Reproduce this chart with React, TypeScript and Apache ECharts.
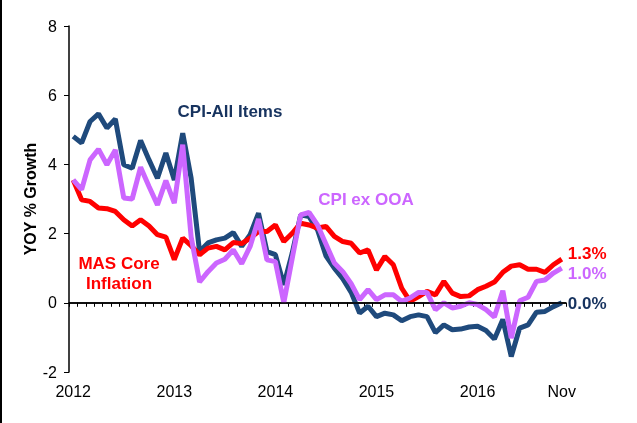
import React, { useEffect, useRef } from "react";
import * as echarts from "echarts";

const years = [2012, 2013, 2014, 2015, 2016];
const monthNames = ["Jan", "Feb", "Mar", "Apr", "May", "Jun", "Jul", "Aug", "Sep", "Oct", "Nov", "Dec"];
const categories: string[] = [];
years.forEach((y) => monthNames.forEach((m, i) => { if (!(y === 2016 && i > 10)) categories.push(m + " " + y); }));

const tickLabels: Record<number, string> = { 0: "2012", 12: "2013", 24: "2014", 36: "2015", 48: "2016", 58: "Nov" };

const cpiAll = [
  4.81, 4.62, 5.24, 5.46, 5.05, 5.31, 3.99, 3.89, 4.69, 4.13, 3.6, 4.33,
  3.55, 4.9, 3.6, 1.48, 1.73, 1.82, 1.87, 2.03, 1.63, 1.97, 2.59, 1.48,
  1.39, 0.52, 1.44, 2.54, 2.49, 2.11, 1.36, 1.0, 0.7, 0.3, -0.3, -0.1,
  -0.4, -0.3, -0.35, -0.52, -0.4, -0.35, -0.4, -0.86, -0.64, -0.78, -0.76, -0.7,
  -0.68, -0.8, -1.05, -0.48, -1.55, -0.73, -0.64, -0.27, -0.25, -0.11, 0.0,
];
const masCore = [
  3.55, 2.98, 2.93, 2.74, 2.72, 2.64, 2.4, 2.22, 2.4, 2.22, 1.97, 1.9,
  1.25, 1.87, 1.65, 1.39, 1.58, 1.63, 1.53, 1.74, 1.71, 1.87, 2.06, 2.06,
  2.25, 1.77, 2.01, 2.3, 2.25, 2.16, 2.21, 1.92, 1.77, 1.72, 1.44, 1.53,
  0.95, 1.34, 1.1, 0.42, 0.04, 0.18, 0.33, 0.23, 0.62, 0.28, 0.18, 0.2,
  0.38, 0.48, 0.6, 0.88, 1.06, 1.1, 0.97, 0.97, 0.88, 1.1, 1.26,
];
const cpiExOOA = [
  3.55, 3.27, 4.13, 4.44, 3.99, 4.42, 3.03, 3.0, 3.92, 3.36, 2.83, 3.53,
  2.88, 4.57, 1.9, 0.6, 0.9, 1.15, 1.26, 1.53, 1.13, 1.63, 2.42, 1.24,
  1.19, 0.0, 1.29, 2.54, 2.61, 2.25, 1.7, 1.15, 0.9, 0.55, 0.09, 0.38,
  0.09, 0.23, 0.23, 0.04, 0.14, 0.3, 0.3, -0.2, 0.0, -0.15, -0.1, 0.0,
  -0.05, -0.2, -0.41, 0.35, -1.02, 0.06, 0.16, 0.62, 0.66, 0.86, 1.0,
];

const FONT = "'Liberation Sans', Arial, sans-serif";
const BLUE = "#1F4A7C";
const BLUE_TEXT = "#17335F";
const RED = "#FF0000";
const PURPLE = "#CC66FF";

export default function App() {
  const ref = useRef<HTMLDivElement>(null);
  useEffect(() => {
    document.body.style.margin = "0";
    const chart = echarts.init(ref.current!, undefined, { renderer: "svg" });
    const endLabel = (color: string, dy: number) => ({
      show: true,
      formatter: (p: any) => Number(p.value).toFixed(1) + "%",
      color,
      fontFamily: FONT,
      fontWeight: "bold",
      fontSize: 17,
      distance: 6,
      offset: [0, dy],
    });
    chart.setOption({
      animation: false,
      textStyle: { fontFamily: FONT },
      grid: { left: 69, right: 71, top: 26, bottom: 51 },
      xAxis: {
        type: "category",
        data: categories,
        boundaryGap: true,
        axisLine: { lineStyle: { color: "#000", width: 1.5 } },
        axisTick: { show: true, interval: 0, length: 4, lineStyle: { color: "#000" } },
        axisLabel: {
          interval: (i: number) => tickLabels[i] !== undefined,
          formatter: (_v: string, i: number) => tickLabels[i] ?? "",
          color: "#000",
          fontSize: 16,
          fontFamily: FONT,
          margin: 11,
        },
        splitLine: { show: false },
      },
      yAxis: {
        type: "value",
        min: -2,
        max: 8,
        interval: 2,
        name: "YOY % Growth",
        nameLocation: "middle",
        nameGap: 31,
        nameMoveOverlap: false,
        nameTextStyle: { color: "#000", fontSize: 16, fontWeight: "bold", fontFamily: FONT },
        axisLine: { show: true, lineStyle: { color: "#000", width: 1.5 } },
        axisTick: { show: true, length: 5, lineStyle: { color: "#000" } },
        axisLabel: { color: "#000", fontSize: 16, fontFamily: FONT, margin: 12 },
        splitLine: { show: false },
      },
      series: [
        {
          name: "CPI-All Items",
          type: "line",
          data: cpiAll,
          symbol: "none",
          lineStyle: { color: BLUE, width: 5 },
          itemStyle: { color: BLUE },
          endLabel: endLabel(BLUE_TEXT, 1),
          markLine: {
            silent: true,
            symbol: "none",
            label: { show: false },
            lineStyle: { color: "#000", width: 1.5, type: "solid" },
            data: [{ yAxis: 0 }],
            z: 10,
          },
        },
        {
          name: "MAS Core Inflation",
          type: "line",
          data: masCore,
          symbol: "none",
          lineStyle: { color: RED, width: 5 },
          itemStyle: { color: RED },
          endLabel: endLabel(RED, -6),
        },
        {
          name: "CPI ex OOA",
          type: "line",
          data: cpiExOOA,
          symbol: "none",
          lineStyle: { color: PURPLE, width: 5 },
          itemStyle: { color: PURPLE },
          endLabel: endLabel(PURPLE, 5),
        },
      ],
      graphic: [
        { type: "rect", left: 0, top: 0, shape: { x: 0, y: 0, width: 2, height: 423 }, style: { fill: "#000" } },
        {
          type: "text", x: 230, y: 111,
          style: { text: "CPI-All Items", fill: BLUE_TEXT, font: `bold 17px ${FONT}`, textAlign: "center", textVerticalAlign: "middle" },
        },
        {
          type: "text", x: 366, y: 199,
          style: { text: "CPI ex OOA", fill: PURPLE, font: `bold 17px ${FONT}`, textAlign: "center", textVerticalAlign: "middle" },
        },
        {
          type: "text", x: 119, y: 263,
          style: { text: "MAS Core", fill: RED, font: `bold 17px ${FONT}`, textAlign: "center", textVerticalAlign: "middle" },
        },
        {
          type: "text", x: 119, y: 283,
          style: { text: "Inflation", fill: RED, font: `bold 17px ${FONT}`, textAlign: "center", textVerticalAlign: "middle" },
        },
      ],
    });
    return () => chart.dispose();
  }, []);
  return <div ref={ref} style={{ position: "fixed", left: 0, top: 0, width: 637, height: 423 }} />;
}
